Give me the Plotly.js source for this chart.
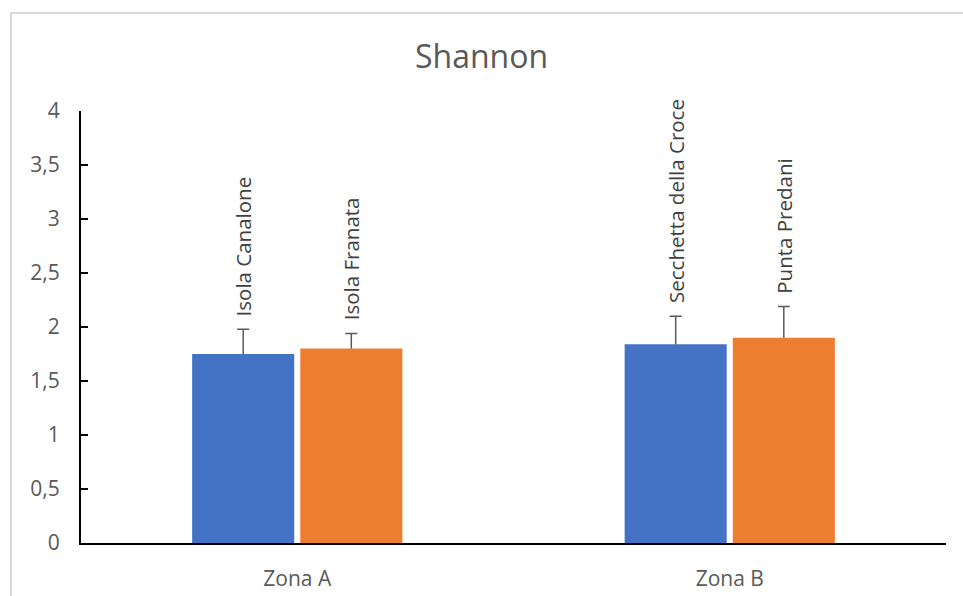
<!DOCTYPE html>
<html>
<head>
<meta charset="utf-8">
<script src="https://cdn.plot.ly/plotly-3.0.1.min.js"></script>
<style>
  html, body { margin: 0; padding: 0; background: #fff; }
  #frame { position: absolute; left: 10px; top: 12px; width: 960px; height: 600px;
           border-left: 2px solid #d9d9d9; border-top: 2px solid #d9d9d9; box-sizing: border-box; }
  #chart { position: absolute; left: 0; top: 0; width: 963px; height: 596px; }
</style>
</head>
<body>
<div id="frame"></div>
<div id="chart"></div>
<script>
const categories = ["Zona A", "Zona B"];
const series1Names = ["Isola Canalone", "Secchetta della Croce"];
const series1Values = [1.75, 1.84];
const series1Errors = [0.23, 0.26];
const series2Names = ["Isola Franata", "Punta Predani"];
const series2Values = [1.80, 1.90];
const series2Errors = [0.14, 0.29];
const yTickVals = [0, 0.5, 1, 1.5, 2, 2.5, 3, 3.5, 4];
const yTickText = ["0", "0,5", "1", "1,5", "2", "2,5", "3", "3,5", "4"];

const colors = ["#4472C4", "#ED7D31"];
const errColor = "#595959";
const tops1 = series1Values.map((v, i) => v + series1Errors[i]);
const tops2 = series2Values.map((v, i) => v + series2Errors[i]);

// bars with the vertical error stems (no caps)
const stem = (arr) => ({ type: "data", symmetric: false, array: arr, arrayminus: [0, 0],
                         color: errColor, thickness: 1.5, width: 0 });
// caps only, drawn at the top of each error bar on an overlaid axis
const cap = { type: "data", symmetric: false, array: [0, 0], arrayminus: [0, 0],
              color: errColor, thickness: 1.5, width: 6 };

const traces = [
  { type: "bar", x: categories, y: series1Values, name: "Serie 1", xaxis: "x", yaxis: "y",
    marker: { color: colors[0] }, error_y: stem(series1Errors) },
  { type: "bar", x: categories, y: series2Values, name: "Serie 2", xaxis: "x", yaxis: "y",
    marker: { color: colors[1] }, error_y: stem(series2Errors) },
  { type: "bar", x: categories, y: tops1, name: "cap 1", xaxis: "x2", yaxis: "y",
    marker: { color: "rgba(0,0,0,0)" }, error_y: cap, hoverinfo: "skip" },
  { type: "bar", x: categories, y: tops2, name: "cap 2", xaxis: "x2", yaxis: "y",
    marker: { color: "rgba(0,0,0,0)" }, error_y: cap, hoverinfo: "skip" }
];

const labelFont = { family: "Open Sans, sans-serif", size: 20.5, color: "#404040" };
const annotations = [];
categories.forEach((c, i) => {
  annotations.push({ x: c, y: tops1[i], xref: "x", yref: "y",
    text: series1Names[i], showarrow: false, textangle: -90, xanchor: "center", yanchor: "bottom",
    xshift: -54, yshift: 11, font: labelFont });
  annotations.push({ x: c, y: tops2[i], xref: "x", yref: "y",
    text: series2Names[i], showarrow: false, textangle: -90, xanchor: "center", yanchor: "bottom",
    xshift: 54, yshift: 11, font: labelFont });
});

const layout = {
  width: 963, height: 596,
  paper_bgcolor: "rgba(0,0,0,0)", plot_bgcolor: "rgba(0,0,0,0)",
  margin: { l: 81, r: 17, t: 111, b: 53 },
  showlegend: false,
  barmode: "group", bargap: 0.5, bargroupgap: 0.056,
  title: { text: "Shannon", x: 0.5, xanchor: "center", y: 0.905, yanchor: "middle",
           font: { family: "Open Sans, sans-serif", size: 32, color: "#595959" } },
  font: { family: "Open Sans, sans-serif", color: "#595959" },
  xaxis: { type: "category", showline: true, linecolor: "#000", linewidth: 2, ticks: "",
           showgrid: false, zeroline: false, ticklabelstandoff: 16,
           tickfont: { size: 21, color: "#595959" }, layer: "above traces" },
  xaxis2: { type: "category", overlaying: "x", matches: "x", visible: false, showline: false,
            showticklabels: false, showgrid: false, zeroline: false },
  yaxis: { range: [0, 4], tickvals: yTickVals, ticktext: yTickText, showline: true,
           linecolor: "#000", linewidth: 2, ticks: "inside", ticklen: 7, tickcolor: "#000", tickwidth: 2,
           showgrid: false, zeroline: false, ticklabelstandoff: 15,
           tickfont: { size: 21, color: "#595959" } },
  annotations: annotations
};

Plotly.newPlot("chart", traces, layout, { displayModeBar: false, staticPlot: true });
</script>
</body>
</html>
